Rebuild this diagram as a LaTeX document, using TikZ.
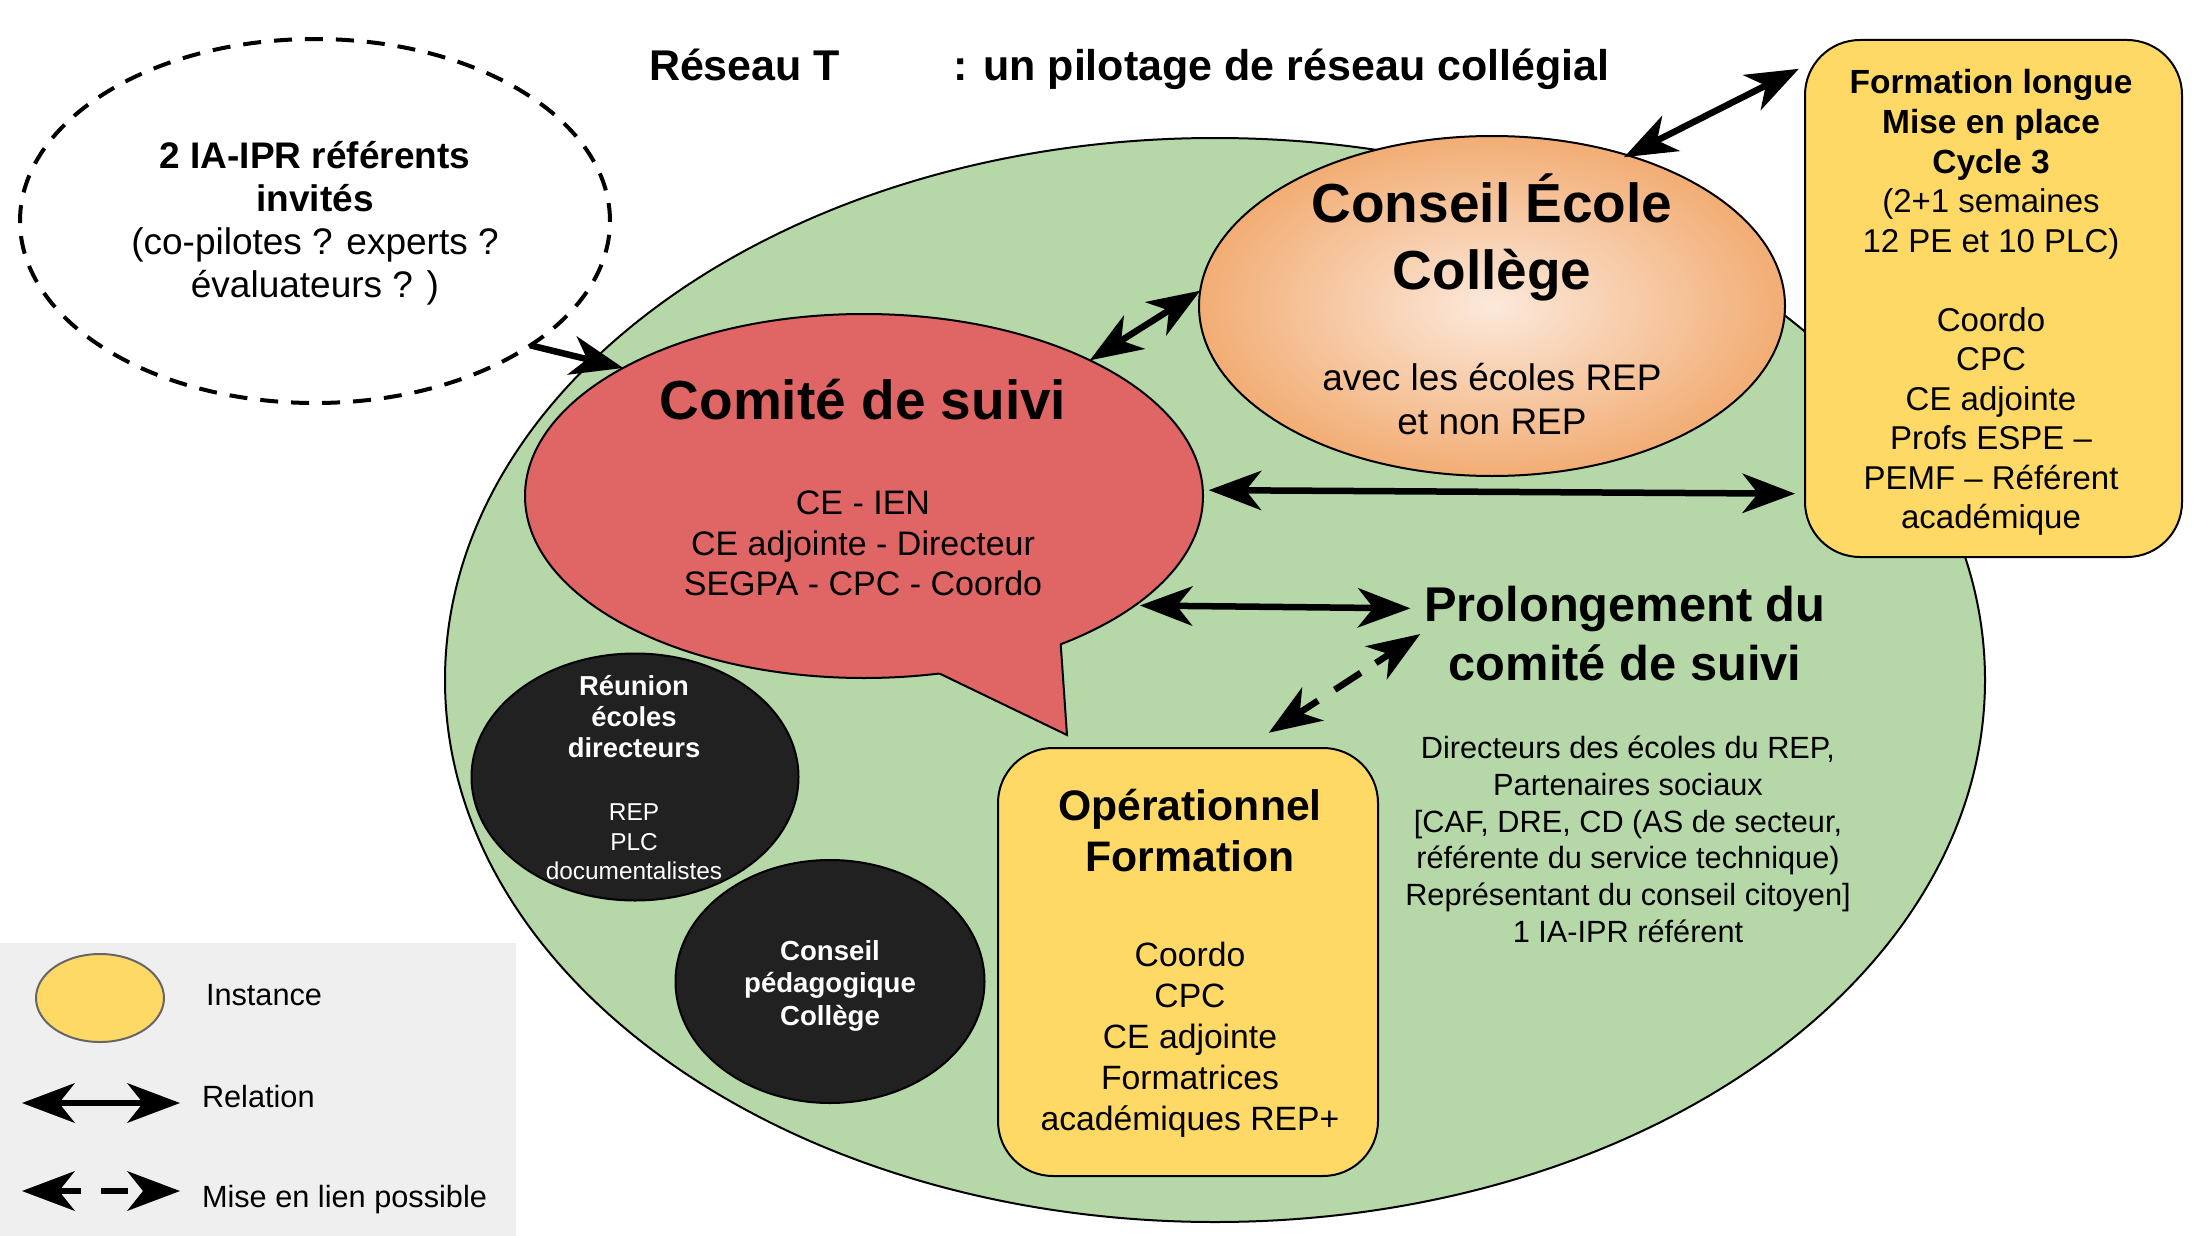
\documentclass[tikz,border=0pt]{standalone}
\usepackage{fontspec}
\setmainfont{Liberation Sans}
\usetikzlibrary{shapes.geometric, arrows.meta, calc}
\definecolor{gbg}{HTML}{B6D7A8}
\definecolor{redc}{HTML}{E06666}
\definecolor{yel}{HTML}{FFD966}
\definecolor{dark}{HTML}{212121}
\definecolor{legbg}{HTML}{EFEFEF}
\definecolor{cecin}{HTML}{FCE9DB}
\definecolor{cecout}{HTML}{F2AD74}
\definecolor{legline}{HTML}{666666}
\newcommand{\fsz}[1]{\fontsize{#1}{#1}\selectfont}
\tikzset{ahd/.tip={Stealth[length=53pt,width=40pt,inset=16pt,line width=0pt]}}
\begin{document}
\begin{tikzpicture}[x=1pt, y=-1pt,
  tx/.style={anchor=base, inner sep=0pt, outer sep=0pt},
  shp/.style={ellipse, inner sep=0pt, outer sep=0pt, draw=black, line width=2pt},
  ybox/.style={rectangle, rounded corners=55pt, inner sep=0pt, outer sep=0pt, draw=black, line width=2pt, fill=yel},
  rel/.style={line width=6.5pt, ahd-ahd},
  relone/.style={line width=6.5pt, -ahd},
]
\useasboundingbox (0,0) rectangle (2198,1236);
\fill[white] (0,0) rectangle (2198,1236);
% legend background
\fill[legbg] (0,943) rectangle (516,1236);

% big green ellipse
\node[shp, fill=gbg, minimum width=1540pt, minimum height=1084pt] (reseau) at (1215,680) {};

% dashed ellipse
\node[ellipse, inner sep=0pt, outer sep=0pt, draw=black, line width=4pt, dash pattern=on 18pt off 13pt,
      minimum width=590pt, minimum height=364pt] (ia) at (315,221) {};

% comite de suivi (speech bubble)
\node[shp, fill=redc, minimum width=678pt, minimum height=364pt] (comite) at (864,496) {};
\coordinate (cstip) at (1067,735);
\fill[redc] (comite.-67) -- (cstip) -- (comite.-37) -- ($(comite.-37)!0.07!(comite.center)$) -- ($(comite.-67)!0.07!(comite.center)$) -- cycle;
\draw[line width=2pt, line join=miter] (comite.-67) -- (cstip) -- (comite.-37);

% conseil ecole college
\node[shp, inner color=cecin, outer color=cecout, minimum width=586pt, minimum height=340pt] (cec) at (1492,306) {};

% formation longue
\node[ybox, minimum width=377pt, minimum height=517pt] (fl) at (1993.5,298.5) {};

% operationnel formation
\node[ybox, minimum width=380pt, minimum height=428pt] (op) at (1188,962) {};

% black ellipses
\node[shp, fill=dark, minimum width=327pt, minimum height=247pt] (reu) at (635,777) {};
\node[shp, fill=dark, minimum width=309pt, minimum height=243pt] (cp) at (830,981.5) {};

% legend ellipse
\node[ellipse, inner sep=0pt, outer sep=0pt, draw=legline, line width=2pt, fill=yel,
      minimum width=128pt, minimum height=88pt] (legi) at (100,998) {};

% ---- texts ----
\node[tx, anchor=base west, font=\fsz{43}\bfseries] (tt1) at (649,81) {Réseau T};
\node[tx, anchor=base west, font=\fsz{43}\bfseries] (tt2) at (953,81) {: un pilotage de réseau collégial};

\node[tx, font=\fsz{37}\bfseries] (ia1) at (315,168) {2 IA-IPR référents};
\node[tx, font=\fsz{37}\bfseries] (ia2) at (315,211) {invités};
\node[tx, font=\fsz{37}] (ia3) at (315,254) {(co-pilotes ? experts ?};
\node[tx, font=\fsz{37}] (ia4) at (315,297) {évaluateurs ? )};

\node[tx, font=\fsz{55}\bfseries] (cst) at (863,419) {Comité de suivi};
\node[tx, font=\fsz{34}] (cs1) at (863,514) {CE - IEN};
\node[tx, font=\fsz{34}] (cs2) at (863,555) {CE adjointe - Directeur};
\node[tx, font=\fsz{34}] (cs3) at (863,595) {SEGPA - CPC - Coordo};

\node[tx, font=\fsz{55}\bfseries] (cet1) at (1492,222) {Conseil École};
\node[tx, font=\fsz{55}\bfseries] (cet2) at (1492,289) {Collège};
\node[tx, font=\fsz{37}] (ce1) at (1492,390) {avec les écoles REP};
\node[tx, font=\fsz{37}] (ce2) at (1492,434) {et non REP};

\node[tx, font=\fsz{33.5}\bfseries] (fl1) at (1991,94) {Formation longue};
\node[tx, font=\fsz{33.5}\bfseries] (fl2) at (1991,133.5) {Mise en place};
\node[tx, font=\fsz{33.5}\bfseries] (fl3) at (1991,173) {Cycle 3};
\node[tx, font=\fsz{33}] (fl4) at (1991,212.5) {(2+1 semaines};
\node[tx, font=\fsz{33}] (fl5) at (1991,252) {12 PE et 10 PLC)};
\node[tx, font=\fsz{33}] (fl6) at (1991,331) {Coordo};
\node[tx, font=\fsz{33}] (fl7) at (1991,370.5) {CPC};
\node[tx, font=\fsz{33}] (fl8) at (1991,410) {CE adjointe};
\node[tx, font=\fsz{33}] (fl9) at (1991,449.5) {Profs ESPE –};
\node[tx, font=\fsz{33}] (fl10) at (1991,489) {PEMF – Référent};
\node[tx, font=\fsz{33}] (fl11) at (1991,528.5) {académique};

\node[tx, font=\fsz{48.8}\bfseries] (pt1) at (1625,621) {Prolongement du};
\node[tx, font=\fsz{48.8}\bfseries] (pt2) at (1625,680) {comité de suivi};
\node[tx, font=\fsz{30.7}] (pb1) at (1628,758) {Directeurs des écoles du REP,};
\node[tx, font=\fsz{30.7}] (pb2) at (1628,795) {Partenaires sociaux};
\node[tx, font=\fsz{30.7}] (pb3) at (1628,832) {[CAF, DRE, CD (AS de secteur,};
\node[tx, font=\fsz{30.7}] (pb4) at (1628,868) {référente du service technique)};
\node[tx, font=\fsz{30.7}] (pb5) at (1628,905) {Représentant du conseil citoyen]};
\node[tx, font=\fsz{30.7}] (pb6) at (1628,942) {1 IA-IPR référent};

\node[tx, font=\fsz{42.7}\bfseries] (ot1) at (1190,820) {Opérationnel};
\node[tx, font=\fsz{42.7}\bfseries] (ot2) at (1190,871) {Formation};
\node[tx, font=\fsz{33.7}] (ob1) at (1190,966) {Coordo};
\node[tx, font=\fsz{33.7}] (ob2) at (1190,1007) {CPC};
\node[tx, font=\fsz{33.7}] (ob3) at (1190,1048) {CE adjointe};
\node[tx, font=\fsz{33.7}] (ob4) at (1190,1089) {Formatrices};
\node[tx, font=\fsz{33.7}] (ob5) at (1190,1130) {académiques REP+};

\node[tx, text=white, font=\fsz{27.4}\bfseries] (ru1) at (634,695) {Réunion};
\node[tx, text=white, font=\fsz{27.4}\bfseries] (ru2) at (634,726) {écoles};
\node[tx, text=white, font=\fsz{27.4}\bfseries] (ru3) at (634,757) {directeurs};
\node[tx, text=white, font=\fsz{24.4}] (ru4) at (634,820) {REP};
\node[tx, text=white, font=\fsz{24.4}] (ru5) at (634,850) {PLC};
\node[tx, text=white, font=\fsz{24.4}] (ru6) at (634,879) {documentalistes};

\node[tx, text=white, font=\fsz{27.6}\bfseries] (cp1) at (830,960) {Conseil};
\node[tx, text=white, font=\fsz{27.6}\bfseries] (cp2) at (830,992.5) {pédagogique};
\node[tx, text=white, font=\fsz{27.6}\bfseries] (cp3) at (830,1025) {Collège};

\node[tx, anchor=base west, font=\fsz{30.7}] (lg1) at (206,1005) {Instance};
\node[tx, anchor=base west, font=\fsz{30.7}] (lg2) at (202,1107) {Relation};
\node[tx, anchor=base west, font=\fsz{30.7}] (lg3) at (202,1207) {Mise en lien possible};

% ---- connectors ----
\draw[relone] (ia.-30) -- (comite.152);
\draw[rel] (comite.31.5) -- (cec.177);
\draw[rel, shorten <=-4pt, shorten >=7pt] (cec.48) -- (fl.129.6);
\draw[rel, shorten <=6pt, shorten >=10pt] (comite.1) -- (fl.-134);
\draw[rel, shorten <=5pt, shorten >=14pt] (comite.-22) -- (pt1.west);
\draw[rel, dash pattern=on 16pt off 18pt on 31pt off 20pt on 80pt off 10pt, shorten <=5pt, shorten >=28pt] (pt1.south west) -- (op.75.6);

% legend arrows
\coordinate (lr1) at (22,1103);
\coordinate (lr2) at (180,1103);
\coordinate (ld1) at (22,1191);
\coordinate (ld2) at (180,1191);
\draw[rel] (lr1) -- (lr2);
\draw[rel, dash pattern=on 22pt off 20pt on 27pt off 40pt] (ld1) -- (ld2);
\end{tikzpicture}
\end{document}
